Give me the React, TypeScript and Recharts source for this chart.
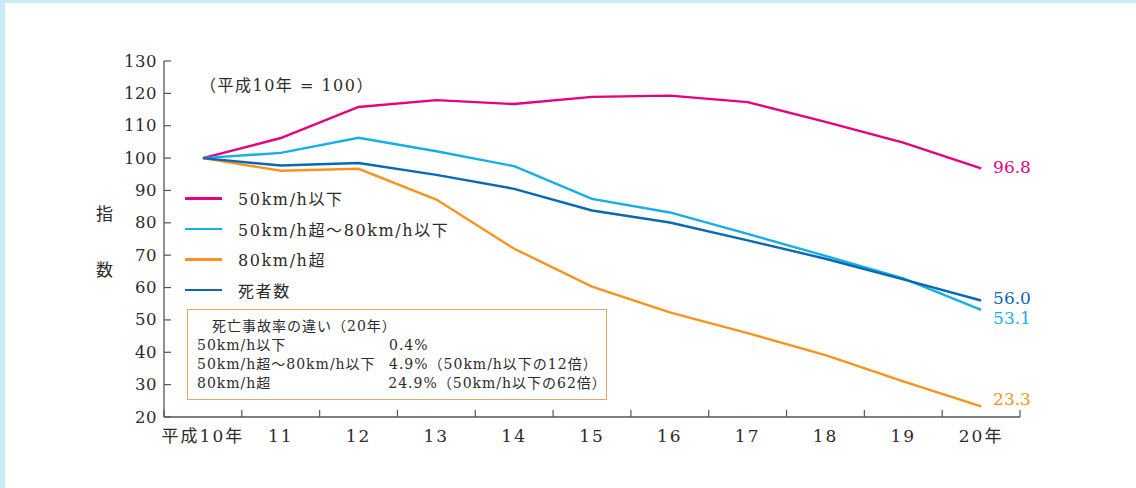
import React from 'react';
import { LineChart, Line, XAxis, YAxis, Legend, LabelList } from 'recharts';

// 平成10年 = 100 の指数
const years = [10, 11, 12, 13, 14, 15, 16, 17, 18, 19, 20];
const xLabels = ['平成10年', '11', '12', '13', '14', '15', '16', '17', '18', '19', '20年'];
const under50 = [100, 106.2, 115.8, 117.9, 116.7, 118.9, 119.3, 117.3, 111.2, 104.8, 96.8];
const from50to80 = [100, 101.6, 106.3, 102.1, 97.5, 87.4, 83.2, 76.6, 69.8, 62.8, 53.1];
const over80 = [100, 96.1, 96.7, 87.2, 72.0, 60.3, 52.3, 45.9, 39.1, 31.0, 23.3];
const deaths = [100, 97.7, 98.5, 94.8, 90.5, 83.8, 80.1, 74.6, 68.9, 62.5, 56.0];
const yTicks = [20, 30, 40, 50, 60, 70, 80, 90, 100, 110, 120, 130];

const boxTitle = '死亡事故率の違い（20年）';
const boxRows = [
  ['50km/h以下', '0.4%'],
  ['50km/h超～80km/h以下', '4.9%（50km/h以下の12倍）'],
  ['80km/h超', '24.9%（50km/h以下の62倍）'],
];

const series = [
  { key: 'under50', name: '50km/h以下', color: '#e5007f', labelDy: -1 },
  { key: 'from50to80', name: '50km/h超～80km/h以下', color: '#16aeea', labelDy: 8 },
  { key: 'over80', name: '80km/h超', color: '#f7931e', labelDy: -7 },
  { key: 'deaths', name: '死者数', color: '#0b68b2', labelDy: -2 },
];

const data = years.map((year, i) => ({
  year,
  under50: under50[i],
  from50to80: from50to80[i],
  over80: over80[i],
  deaths: deaths[i],
}));

// category boundaries get the small tick marks, centres get the labels
const xTicks = [...years.map((y) => y - 0.5), years[years.length - 1] + 0.5, ...years].sort((a, b) => a - b);

const FONT = '"DejaVu Serif", "Noto Sans CJK JP", serif';
const AXIS = '#555';
const TEXT = '#2b2b2b';

const XTick = (props: any) => {
  const { x, y, payload } = props;
  const i = years.indexOf(payload.value);
  if (i < 0) {
    return <line x1={x} x2={x} y1={y} y2={y - 7} stroke={AXIS} strokeWidth={1.2} />;
  }
  return (
    <text
      x={x}
      y={y + 19}
      textAnchor="middle"
      dominantBaseline="central"
      fontSize={17}
      letterSpacing={2}
      fontFamily={FONT}
      fill={TEXT}
    >
      {xLabels[i]}
    </text>
  );
};

const YTick = (props: any) => {
  const { x, y, payload } = props;
  return (
    <g>
      <line x1={x} x2={x + 7} y1={y} y2={y} stroke={AXIS} strokeWidth={1.2} />
      <text
        x={x - 7}
        y={y}
        textAnchor="end"
        dominantBaseline="central"
        fontSize={16.5}
        letterSpacing={0.5}
        fontFamily={FONT}
        fill={TEXT}
      >
        {payload.value}
      </text>
    </g>
  );
};

const endLabel = (s: (typeof series)[number]) => (props: any) => {
  const { x, y, value, index } = props;
  if (index !== years.length - 1) return null;
  return (
    <text x={x + 12} y={y + s.labelDy} dominantBaseline="central" fontSize={17} fontFamily={FONT} fill={s.color}>
      {Number(value).toFixed(1)}
    </text>
  );
};

const LegendBox = () => (
  <div style={{ fontFamily: FONT, fontSize: 16, color: TEXT }}>
    {series.map((s) => (
      <div key={s.key} style={{ display: 'flex', alignItems: 'center', height: 30.5 }}>
        <span style={{ display: 'inline-block', width: 37, height: 2.5, background: s.color, marginRight: 16 }} />
        <span style={{ letterSpacing: 1.6 }}>{s.name}</span>
      </div>
    ))}
  </div>
);

export default function App() {
  return (
    <div style={{ position: 'absolute', left: 0, top: 0, width: 1136, height: 488, background: '#fff', overflow: 'hidden' }}>
      <div style={{ position: 'absolute', left: 0, top: 0, width: 5, height: 488, background: '#c8eaf9' }} />
      <div style={{ position: 'absolute', left: 0, top: 0, width: 1136, height: 3, background: '#c8eaf9' }} />

      <LineChart width={1136} height={488} data={data} margin={{ top: 61, right: 116, bottom: 31, left: 104 }}>
        <XAxis
          dataKey="year"
          type="number"
          domain={[9.5, 20.5]}
          ticks={xTicks}
          interval={0}
          height={40}
          tick={<XTick />}
          tickLine={false}
          tickSize={0}
          tickMargin={0}
          axisLine={{ stroke: AXIS, strokeWidth: 1.3 }}
        />
        <YAxis
          type="number"
          domain={[20, 130]}
          ticks={yTicks}
          interval={0}
          width={60}
          tick={<YTick />}
          tickLine={false}
          tickSize={0}
          tickMargin={0}
          axisLine={{ stroke: AXIS, strokeWidth: 1.3 }}
        />
        <Legend
          layout="vertical"
          align="center"
          verticalAlign="middle"
          content={<LegendBox />}
          wrapperStyle={{ left: 185, top: 183, width: 330, height: 124 }}
        />
        {series.map((s) => (
          <Line
            key={s.key}
            dataKey={s.key}
            name={s.name}
            type="linear"
            stroke={s.color}
            strokeWidth={2.4}
            dot={false}
            activeDot={false}
            isAnimationActive={false}
          >
            <LabelList dataKey={s.key} content={endLabel(s)} />
          </Line>
        ))}
      </LineChart>

      <div
        style={{
          position: 'absolute',
          left: 200,
          top: 72,
          fontFamily: FONT,
          fontSize: 16,
          color: TEXT,
          letterSpacing: 1.5,
        }}
      >
        （平成10年 = 100）
      </div>

      <div style={{ position: 'absolute', left: 96, top: 200, fontFamily: FONT, fontSize: 17, color: TEXT }}>指</div>
      <div style={{ position: 'absolute', left: 96, top: 256, fontFamily: FONT, fontSize: 17, color: TEXT }}>数</div>

      <div
        style={{
          position: 'absolute',
          left: 187,
          top: 309,
          width: 420,
          height: 91,
          border: '1px solid #d9ac5e',
          fontFamily: FONT,
          fontSize: 14,
          color: TEXT,
          lineHeight: '19px',
          paddingTop: 7,
          boxSizing: 'border-box',
          letterSpacing: 1,
        }}
      >
        <div style={{ paddingLeft: 24 }}>{boxTitle}</div>
        {boxRows.map((r) => (
          <div key={r[0]} style={{ display: 'flex', paddingLeft: 9 }}>
            <span style={{ width: 192 }}>{r[0]}</span>
            <span>{r[1]}</span>
          </div>
        ))}
      </div>
    </div>
  );
}
